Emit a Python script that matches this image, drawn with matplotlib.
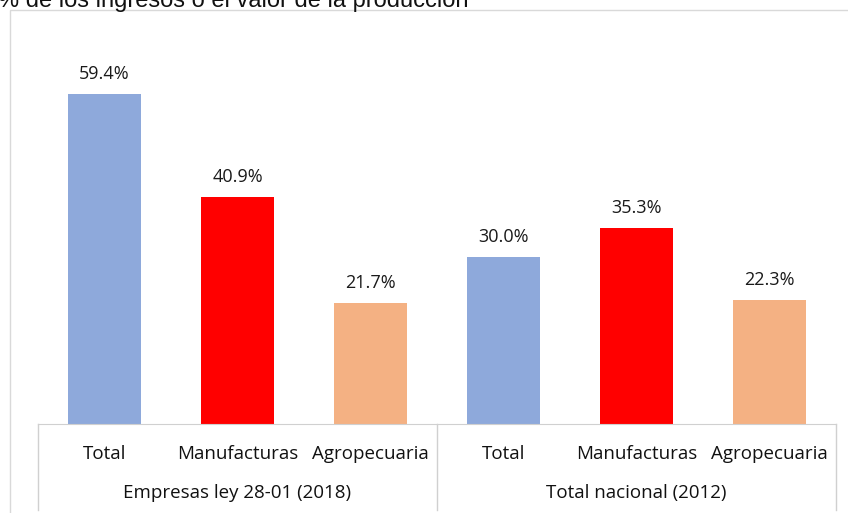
import matplotlib.pyplot as plt
from matplotlib.patches import Rectangle
from matplotlib.transforms import blended_transform_factory

categories = ["Total", "Manufacturas", "Agropecuaria",
              "Total", "Manufacturas", "Agropecuaria"]
groups = ["Empresas ley 28-01 (2018)", "Total nacional (2012)"]
values = [59.4, 40.9, 21.7, 30.0, 35.3, 22.3]
colors = ["#8EA9DB", "#FF0000", "#F4B183", "#8EA9DB", "#FF0000", "#F4B183"]

plt.rcParams['font.family'] = ['Open Sans', 'DejaVu Sans']

fig = plt.figure(figsize=(8.48, 5.13), dpi=100)
W, H = 848, 513

# outer chart border (cut off on the right and bottom)
fig.patches.append(Rectangle((10 / W, -0.1), 1.0, 1 - 10 / H + 0.1,
                             transform=fig.transFigure, fill=False,
                             edgecolor='#d9d9d9', linewidth=1.0))

fig.text(-2 / W, 1 - 1 / H, "% de los ingresos o el valor de la producción",
         fontsize=17, family=['Liberation Sans', 'DejaVu Sans'],
         ha='left', va='center', color='#111111')

ax = fig.add_axes([38 / W, 1 - 424 / H, (836 - 38) / W, (424 - 30) / H])
x = list(range(len(values)))
bars = ax.bar(x, values, width=0.55, color=colors)
ax.set_xlim(-0.5, 5.5)
ax.set_ylim(0, 70.9)

for xi, v in zip(x, values):
    ax.annotate(f"{v:.1f}%", (xi, v), xytext=(0, 8), textcoords='offset points',
                ha='center', va='bottom', fontsize=13, color='#1a1a1a')

for s in ['top', 'right', 'left']:
    ax.spines[s].set_visible(False)
ax.spines['bottom'].set_color('#d0d0d0')
ax.set_yticks([])
ax.set_xticks(x)
ax.set_xticklabels(categories, fontsize=13.5, color='#111111')
ax.tick_params(axis='x', length=0, pad=15)

trans = blended_transform_factory(ax.transData, ax.transAxes)
bottom = -(510 - 424) / (424 - 30)
for xv in [-0.5, 2.5, 5.5]:
    ax.plot([xv, xv], [0, bottom], transform=trans, color='#d0d0d0',
            linewidth=1.0, clip_on=False)

grp_y = -(493 - 424) / (424 - 30)
ax.text(1, grp_y, groups[0], transform=trans, ha='center', va='center',
        fontsize=13.5, color='#111111')
ax.text(4, grp_y, groups[1], transform=trans, ha='center', va='center',
        fontsize=13.5, color='#111111')

fig.savefig("out.png", dpi=100)
